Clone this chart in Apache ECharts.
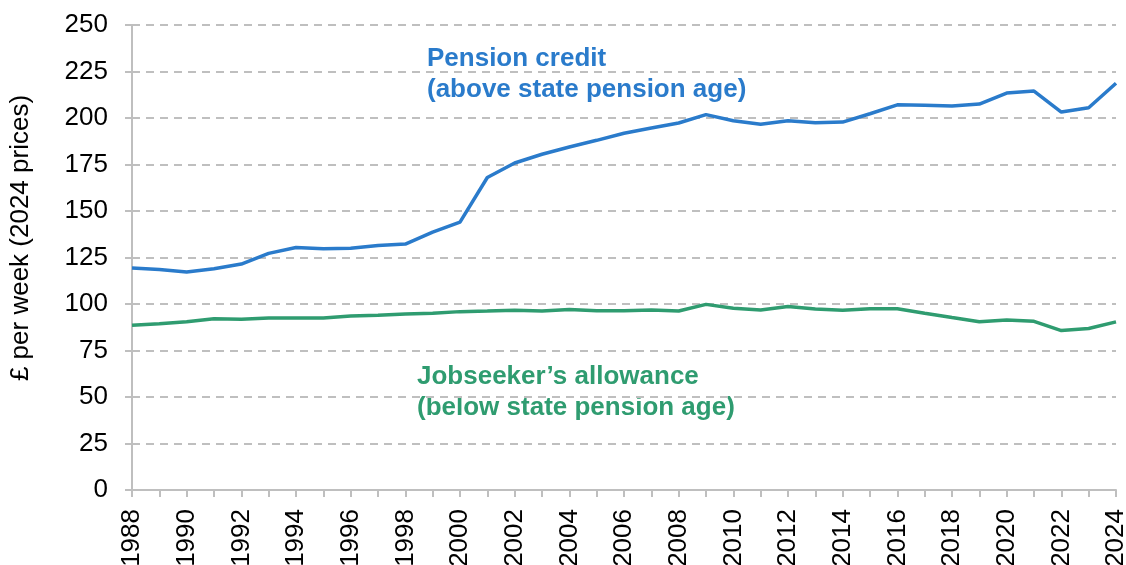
<!DOCTYPE html>
<html>
<head>
<meta charset="utf-8">
<script src="https://cdn.jsdelivr.net/npm/echarts@6/dist/echarts.min.js"></script>
<style>
  html, body { margin: 0; padding: 0; background: #fff; }
  #chart { width: 1126px; height: 565px; }
</style>
</head>
<body>
<div id="chart"></div>
<script>
const years = [];
for (let y = 1988; y <= 2024; y++) years.push(String(y));

// £ per week, 2024 prices
const pensionCredit = [
  119.3, 118.6, 117.2, 119.0, 121.5, 127.2, 130.4, 129.7, 130.0, 131.5,
  132.2, 138.6, 144.0, 168.0, 175.8, 180.5, 184.4, 188.0, 191.8, 194.6,
  197.3, 201.8, 198.5, 196.6, 198.5, 197.5, 197.8, 202.3, 207.1, 206.8,
  206.4, 207.5, 213.4, 214.5, 203.2, 205.5, 218.7
];
const jobseekers = [
  88.6, 89.4, 90.5, 92.1, 91.8, 92.5, 92.5, 92.5, 93.6, 93.9,
  94.6, 95.0, 95.9, 96.2, 96.6, 96.2, 97.1, 96.4, 96.4, 96.8,
  96.2, 99.8, 97.7, 96.8, 98.6, 97.3, 96.6, 97.5, 97.5, 95.0,
  92.7, 90.5, 91.4, 90.7, 85.7, 86.8, 90.4
];

const blue = '#2A7BCB';
const green = '#2F9C70';
const grey = '#BFBFBF';
const font = 'Arial, "Liberation Sans", sans-serif';

const chart = echarts.init(document.getElementById('chart'));

chart.setOption({
  animation: false,
  grid: { left: 132, right: 10, top: 25, bottom: 75, containLabel: false, outerBoundsMode: 'none' },
  xAxis: {
    type: 'category',
    data: years,
    boundaryGap: false,
    axisLine: { lineStyle: { color: grey, width: 2 } },
    axisTick: { show: true, interval: 0, length: 7, lineStyle: { color: grey, width: 2 } },
    axisLabel: {
      interval: 1,
      rotate: 90,
      margin: 19,
      color: '#000',
      fontSize: 26,
      fontFamily: font
    },
    splitLine: { show: false }
  },
  yAxis: {
    type: 'value',
    min: 0,
    max: 250,
    interval: 25,
    axisLine: { show: true, lineStyle: { color: grey, width: 2 } },
    axisTick: { show: true, length: 7, lineStyle: { color: grey, width: 2 } },
    axisLabel: { color: '#000', fontSize: 26, fontFamily: font, margin: 24 },
    splitLine: { lineStyle: { color: grey, type: [8, 6], width: 2 } }
  },
  series: [
    {
      name: 'Pension credit',
      type: 'line',
      data: pensionCredit,
      showSymbol: false,
      lineStyle: { color: blue, width: 3.5 },
      itemStyle: { color: blue }
    },
    {
      name: "Jobseeker's allowance",
      type: 'line',
      data: jobseekers,
      showSymbol: false,
      lineStyle: { color: green, width: 3.5 },
      itemStyle: { color: green }
    }
  ],
  graphic: [
    {
      type: 'text',
      x: 21,
      y: 238,
      rotation: Math.PI / 2,
      style: {
        text: '£ per week (2024 prices)',
        fill: '#000',
        font: '26px ' + font,
        align: 'center',
        verticalAlign: 'middle'
      }
    },
    {
      type: 'text',
      left: 427,
      top: 43,
      style: {
        text: 'Pension credit\n(above state pension age)',
        fill: blue,
        font: 'bold 26px ' + font,
        lineHeight: 31
      }
    },
    {
      type: 'text',
      left: 417,
      top: 361,
      style: {
        text: 'Jobseeker\u2019s allowance\n(below state pension age)',
        fill: green,
        font: 'bold 26px ' + font,
        lineHeight: 31
      }
    }
  ]
});
</script>
</body>
</html>
